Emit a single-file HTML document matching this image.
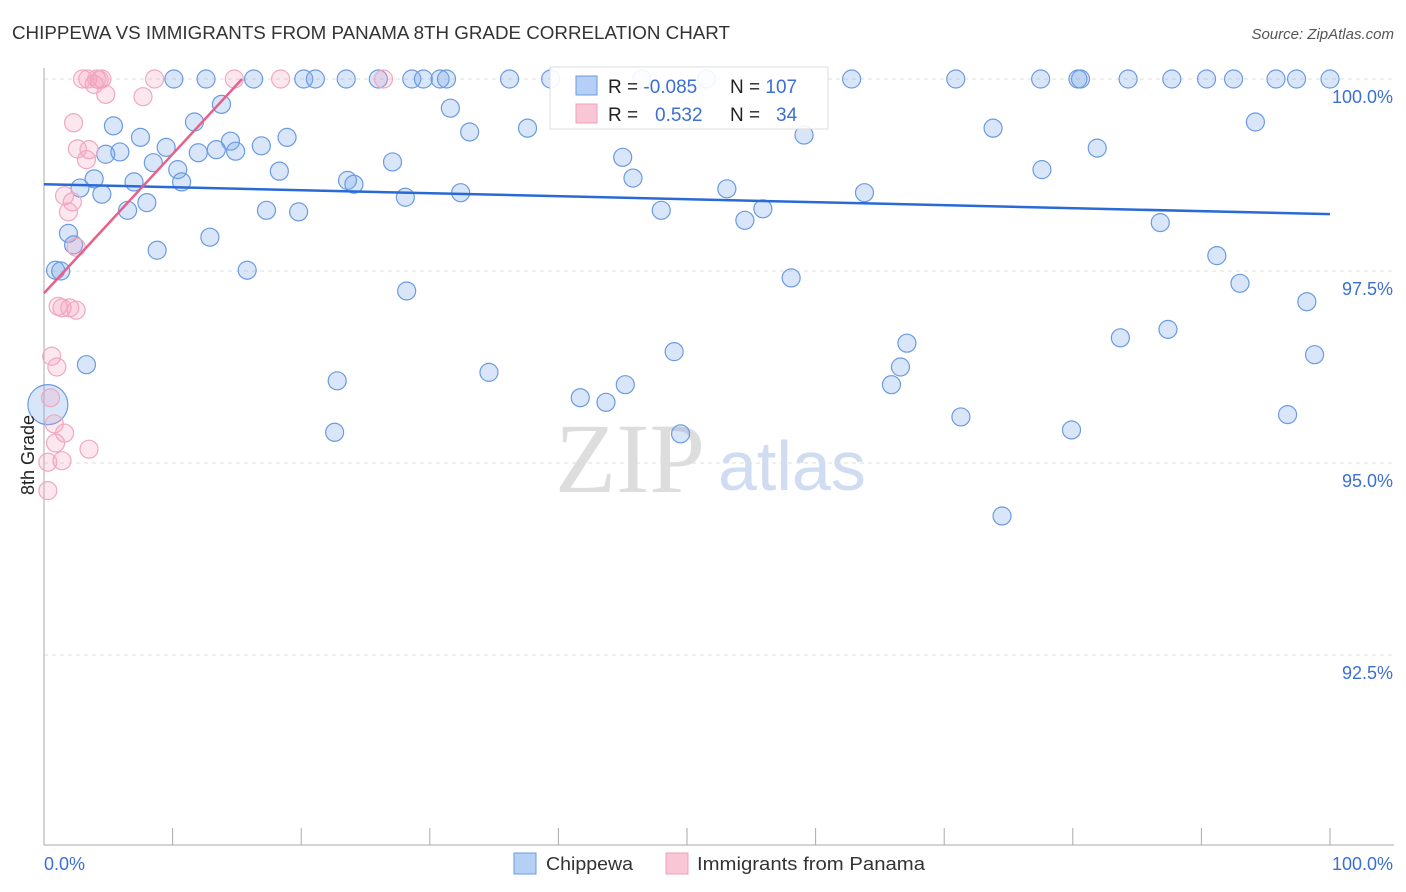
<!DOCTYPE html>
<html><head><meta charset="utf-8"><style>
body{margin:0;background:#fff;font-family:"Liberation Sans",sans-serif}
#c{position:absolute;left:0;top:0}
</style></head><body>
<svg id="c" width="1406" height="892" font-family="Liberation Sans, sans-serif">
<text x="12" y="39" font-size="18" fill="#333" textLength="718" lengthAdjust="spacingAndGlyphs">CHIPPEWA VS IMMIGRANTS FROM PANAMA 8TH GRADE CORRELATION CHART</text>
<text x="1394" y="39" font-size="15" fill="#555" font-style="italic" text-anchor="end">Source: ZipAtlas.com</text>
<text x="555" y="492" font-size="100" fill="#ddd" font-family="Liberation Serif, serif">ZIP</text>
<text x="718" y="490" font-size="70" fill="#cfdcf2">atlas</text>
<g id="grid"></g>
<g id="axes"></g>
<g id="pts"></g>
<g id="trend"></g>
<text transform="translate(34,455) rotate(-90)" font-size="18" fill="#222" text-anchor="middle">8th Grade</text>
<g>
<rect x="550" y="67" width="278" height="62" fill="#fff" fill-opacity="0.9" stroke="#ddd"/>
<rect x="576" y="76" width="21" height="19" fill="#b5cff5" stroke="#6a9be0"/>
<rect x="576" y="104" width="21" height="19" fill="#f9c6d6" stroke="#f0a0b8"/>
<text x="608" y="93" font-size="19" fill="#222">R = <tspan fill="#3b6fd4">-0.085</tspan></text>
<text x="730" y="93" font-size="19" fill="#222">N = <tspan fill="#3b6fd4">107</tspan></text>
<text x="608" y="121" font-size="19" fill="#222">R = <tspan x="655" fill="#3b6fd4">0.532</tspan></text>
<text x="730" y="121" font-size="19" fill="#222">N = <tspan x="776" fill="#3b6fd4">34</tspan></text>
</g>
<g><rect x="514" y="853" width="22" height="21" fill="#b5cff5" stroke="#6a9be0"/><text x="546" y="870" font-size="18" fill="#333" textLength="87" lengthAdjust="spacingAndGlyphs">Chippewa</text></g>
<g><rect x="666" y="853" width="22" height="21" fill="#f9c6d6" stroke="#f0a0b8"/><text x="697" y="870" font-size="18" fill="#333" textLength="228" lengthAdjust="spacingAndGlyphs">Immigrants from Panama</text></g>
</svg>
<script>
const yTicks=[100,97.5,95,92.5];
const yTickLabels=["100.0%","97.5%","95.0%","92.5%"];
const blueX=[10.1,12.6,16.3,20.2,21.1,23.5,26.0,28.6,29.5,30.8,31.3,36.2,39.4,46.5,51.5,62.8,70.9,77.5,80.4,80.6,84.3,87.7,90.4,92.5,95.8,97.4,100,
13.8,31.6,11.7,5.4,33.1,37.6,73.8,94.2,59.1,7.5,14.5,18.9,9.5,4.8,5.9,12.0,13.4,14.9,16.9,81.9,27.1,45.0,8.5,10.4,18.3,77.6,3.9,7.0,10.7,23.6,24.1,45.8,2.8,4.5,8.0,6.5,28.1,32.4,53.1,63.8,17.3,19.8,48.0,55.9,54.5,86.8,1.9,2.3,12.9,8.8,91.2,0.9,1.3,15.8,58.1,28.2,93.0,98.2,3.3,67.1,87.4,83.7,49.0,98.8,34.6,66.6,22.8,45.2,65.9,41.7,43.7,71.3,96.7,22.6,49.5,79.9,74.5,0.3];
const blueY=[100,100,100,100,100,100,100,100,100,100,100,100,100,100,100,100,100,100,100,100,100,100,100,100,100,100,100,
99.67,99.62,99.44,99.39,99.31,99.36,99.36,99.44,99.27,99.24,99.19,99.24,99.11,99.02,99.05,99.04,99.08,99.06,99.13,99.10,98.92,98.98,98.91,98.82,98.80,98.82,98.70,98.66,98.66,98.68,98.63,98.71,98.58,98.50,98.39,98.29,98.46,98.52,98.57,98.52,98.29,98.27,98.29,98.31,98.16,98.13,97.99,97.84,97.94,97.77,97.70,97.51,97.50,97.51,97.41,97.24,97.34,97.10,96.28,96.56,96.74,96.63,96.45,96.41,96.18,96.25,96.07,96.02,96.02,95.85,95.79,95.60,95.63,95.40,95.38,95.43,94.31,95.76];
const pinkX=[3.0,3.4,4.1,4.5,4.3,3.9,8.6,14.8,18.4,26.4,4.8,7.7,2.3,2.6,3.5,3.3,1.6,2.2,1.9,2.5,1.1,1.4,2.0,2.5,0.6,1.0,0.5,0.8,1.6,0.9,3.5,0.3,1.4,0.3];
const pinkY=[100,100,100,100,99.99,99.93,100,100,100,100,99.80,99.77,99.43,99.09,99.08,98.95,98.48,98.40,98.27,97.81,97.04,97.02,97.02,96.99,96.39,96.25,95.85,95.51,95.39,95.26,95.18,95.01,95.03,94.64];
const blueTrend=[[0,98.63],[100,98.24]];
const pinkTrend=[[0,97.21],[15.4,100]];
const NS="http://www.w3.org/2000/svg";
const sx=v=>44+v*12.86, sy=v=>79+(100-v)*76.8;
function mk(tag,attrs,parent){const e=document.createElementNS(NS,tag);for(const k in attrs)e.setAttribute(k,attrs[k]);parent.appendChild(e);return e;}
const grid=document.getElementById('grid'),axes=document.getElementById('axes'),pts=document.getElementById('pts'),trend=document.getElementById('trend');
yTicks.forEach((t,i)=>{
 const l=mk('line',{x1:44,x2:1394,y1:sy(t),y2:sy(t),stroke:'#ddd','stroke-dasharray':'4,4'},grid);
 
 
 const tx=mk('text',{x:1393,y:sy(t)+24,'font-size':18,fill:'#3b6fd4','text-anchor':'end'},grid);
 tx.textContent=yTickLabels[i];
 
 
});
const ya=mk('line',{x1:44,x2:44,y1:68,y2:845,stroke:'#aaa'},axes);


const xa=mk('line',{x1:44,x2:1394,y1:845,y2:845,stroke:'#aaa'},axes);


for(let i=0;i<=10;i++){
 const t=mk('line',{x1:sx(i*10),x2:sx(i*10),y1:828,y2:845,stroke:'#aaa'},axes);
 
 
}
const xl0=mk('text',{x:44,y:870,'font-size':18,fill:'#3b6fd4'},axes);xl0.textContent='0.0%';


const xl1=mk('text',{x:1393,y:870,'font-size':18,fill:'#3b6fd4','text-anchor':'end'},axes);xl1.textContent='100.0%';


blueX.forEach((x,i)=>{
 const big=i===blueX.length-1;
 const c=mk('circle',{cx:sx(x),cy:sy(blueY[i]),r:big?20:9,fill:'rgba(120,165,235,0.28)',stroke:'#6a9be0','stroke-width':1.2},pts);
 
 
});
pinkX.forEach((x,i)=>{
 const c=mk('circle',{cx:sx(x),cy:sy(pinkY[i]),r:9,fill:'rgba(245,160,190,0.25)',stroke:'#f0a8be','stroke-width':1.2},pts);
 
 
});
const bt=mk('line',{x1:sx(blueTrend[0][0]),y1:sy(blueTrend[0][1]),x2:sx(blueTrend[1][0]),y2:sy(blueTrend[1][1]),stroke:'#2a6ad6','stroke-width':2.5},trend);


const pt=mk('line',{x1:sx(pinkTrend[0][0]),y1:sy(pinkTrend[0][1]),x2:sx(pinkTrend[1][0]),y2:sy(pinkTrend[1][1]),stroke:'#e8608a','stroke-width':2.5},trend);


</script>
</body></html>
